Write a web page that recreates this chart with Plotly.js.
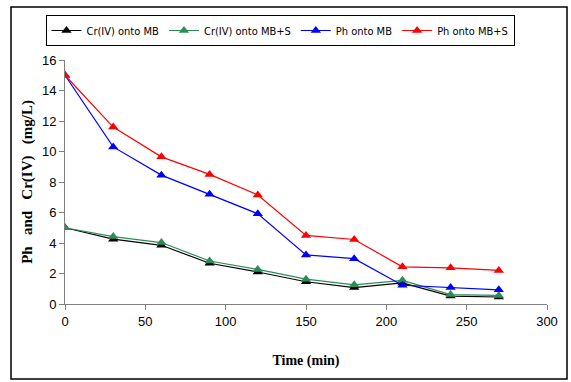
<!DOCTYPE html>
<html><head><meta charset="utf-8">
<script src="https://cdn.plot.ly/plotly-3.0.1.min.js"></script>
<style>html,body{margin:0;padding:0;background:#fff}#c{width:571px;height:382px}</style>
</head><body><div id="c"></div>
<script>
const time = [0, 30, 60, 90, 120, 150, 180, 210, 240, 270];
const crMB = [5.0, 4.25, 3.85, 2.67, 2.1, 1.46, 1.08, 1.38, 0.52, 0.46];
const crMBS = [5.0, 4.42, 4.03, 2.82, 2.27, 1.63, 1.26, 1.55, 0.62, 0.56];
const phMB = [15.0, 10.3, 8.45, 7.2, 5.92, 3.22, 2.97, 1.23, 1.08, 0.93];
const phMBS = [15.0, 11.6, 9.65, 8.5, 7.15, 4.5, 4.23, 2.44, 2.37, 2.2];
const names = ["Cr(IV) onto MB", "Cr(IV) onto MB+S", "Ph onto MB", "Ph onto MB+S"];
const colors = ["#000000", "#2e8b57", "#0000ff", "#ff0000"];
const series = [crMB, crMBS, phMB, phMBS];

const traces = series.map((ys, i) => ({
  x: time, y: ys, name: names[i], type: 'scatter', mode: 'lines+markers',
  line: {color: colors[i], width: 1.2},
  marker: {symbol: 'triangle-up', size: 9, color: colors[i]}
}));

const L = 65, R = 547, T = 60, B = 304, W = 571, H = 382;
const pw = R - L, ph = B - T;
const px = v => (v - L) / pw;
const py = v => (B - v) / ph;

const layout = {
  width: W, height: H,
  margin: {l: L, r: W - R, t: T, b: H - B},
  paper_bgcolor: '#fff', plot_bgcolor: '#fff',
  showlegend: true,
  legend: {orientation: 'h', x: px(280), y: py(15), xanchor: 'center', yanchor: 'top',
    bordercolor: '#000', borderwidth: 1, font: {family: 'DejaVu Sans Condensed, Liberation Sans', size: 11, color: '#000'},
    itemwidth: 30, tracegroupgap: 0, itemclick: false},
  xaxis: {range: [0, 300], dtick: 50, showgrid: false, zeroline: false, showline: true,
    linecolor: '#808080', linewidth: 1, ticks: 'outside', ticklen: 5, tickcolor: '#808080',
    tickfont: {family: 'Liberation Sans, Arial', size: 13, color: '#000'},
    title: {text: 'Time (min)', font: {family: 'Liberation Serif, Times New Roman', size: 14, color: '#000', weight: 'bold'}, standoff: 27}},
  yaxis: {range: [0, 16], dtick: 2, showgrid: false, zeroline: false, showline: true,
    linecolor: '#808080', linewidth: 1, ticks: 'outside', ticklen: 5, tickcolor: '#808080',
    tickfont: {family: 'Liberation Sans, Arial', size: 13, color: '#000'},
    title: {text: 'Ph&nbsp;&nbsp;&nbsp;and&nbsp;&nbsp;&nbsp;Cr(IV)&nbsp;&nbsp;&nbsp;(mg/L)', font: {family: 'Liberation Serif, Times New Roman', size: 15, color: '#000', weight: 'bold'}, standoff: 5}},
  shapes: [{type: 'rect', xref: 'paper', yref: 'paper', x0: px(11), x1: px(567), y0: py(379), y1: py(7),
    line: {color: '#000', width: 1.5}, fillcolor: 'rgba(0,0,0,0)', layer: 'below'}]
};
Plotly.newPlot('c', traces, layout, {displayModeBar: false, staticPlot: true});
</script></body></html>
